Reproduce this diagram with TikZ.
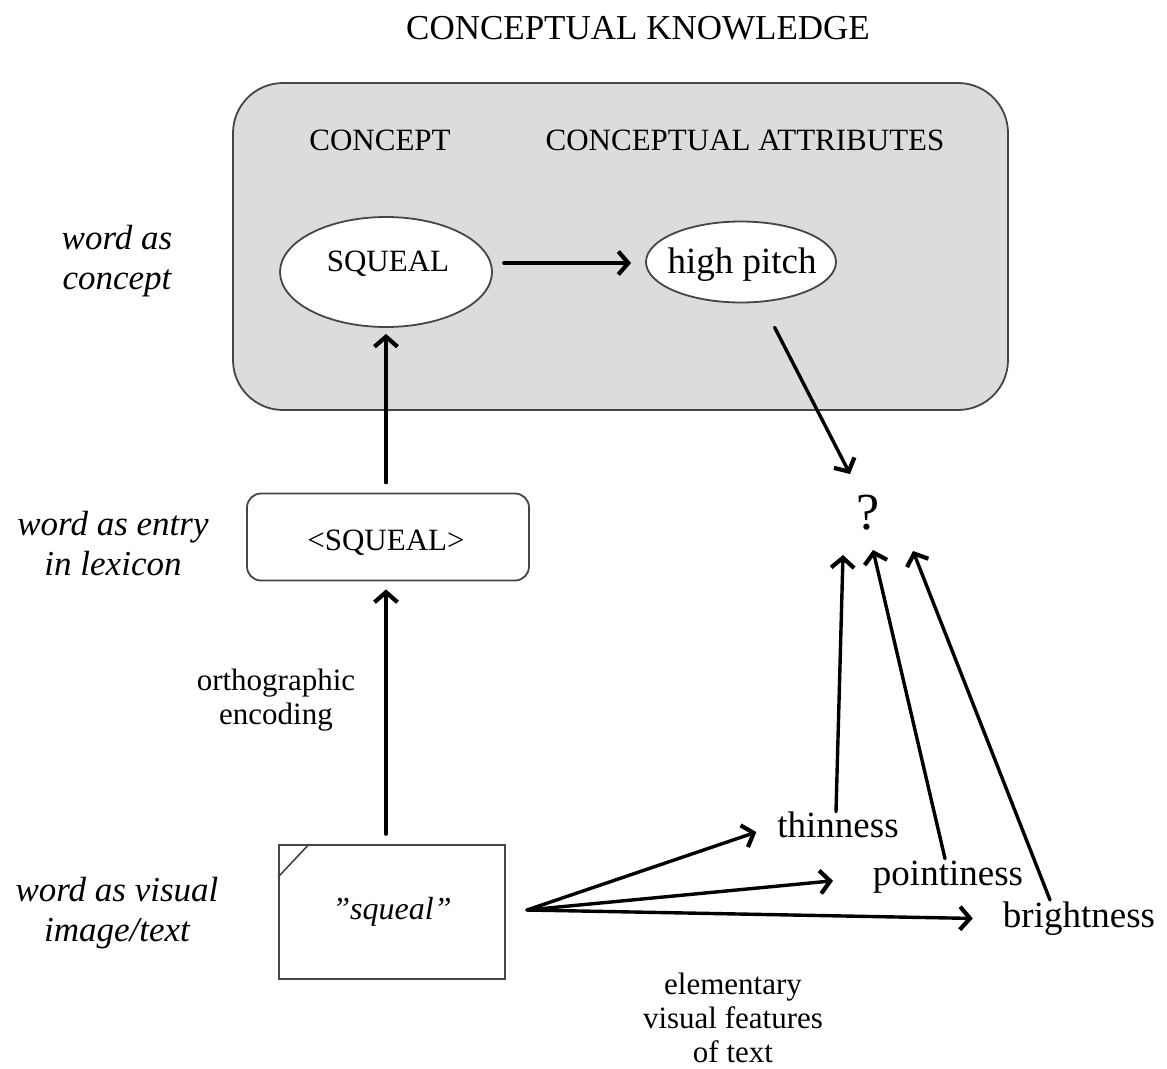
\documentclass[tikz,border=0pt]{standalone}
\usepackage{fontspec}
\setmainfont{Liberation Serif}
\usetikzlibrary{shapes.geometric,arrows.meta,calc}
\definecolor{boxgray}{HTML}{DCDCDC}
\definecolor{edgegray}{HTML}{454545}
\begin{document}
\begin{tikzpicture}[x=1pt,y=-1pt,
  arr/.style={line width=3.4pt,line cap=round,-{Straight Barb[length=10pt,width=23pt,line width=0.8pt 1]}},
  txt/.style={inner sep=0pt,align=center},
  ftitle/.style={font=\fontsize{35}{40}\selectfont},
  fcaps/.style={font=\fontsize{31}{36}\selectfont},
  flow/.style={font=\fontsize{37}{42}\selectfont},
  fsmall/.style={font=\fontsize{31}{34}\selectfont},
  fit/.style={font=\fontsize{35}{40}\selectfont\itshape},
  shape frame/.style={draw=edgegray,line width=1.8pt}]
\useasboundingbox (0,0) rectangle (1167,1068);

% conceptual knowledge box
\node[shape frame,fill=boxgray,rounded corners=50pt,minimum width=775pt,minimum height=327pt,inner sep=0pt] (kb) at (620.5,246.5) {};
\node[txt,ftitle] (title) at (638,28) {CONCEPTUAL KNOWLEDGE};
\node[txt,fcaps] (hconcept) at (380,140) {CONCEPT};
\node[txt,fcaps] (hattr) at (745,140) {CONCEPTUAL ATTRIBUTES};

\node[ellipse,shape frame,fill=white,minimum width=212pt,minimum height=110pt,inner sep=0pt] (sq) at (386,272) {};
\node[txt,fcaps] (sqt) at (388,264) {SQUEAL};
\node[ellipse,shape frame,fill=white,minimum width=190pt,minimum height=81pt,inner sep=0pt] (hp) at (741,262) {};
\node[txt,flow] (hpt) at (742,265) {high pitch};

% lexicon box
\node[shape frame,rounded corners=14pt,minimum width=282pt,minimum height=87pt,inner sep=0pt] (lex) at (388,537) {};
\node[txt,fcaps] (lext) at (386,543) {<SQUEAL>};

% visual image
\node[shape frame,minimum width=226pt,minimum height=134pt,inner sep=0pt] (img) at (392,912) {};
\node[txt,font=\fontsize{32}{36}\selectfont\itshape] (imgt) at (392,912) {”squeal”};
\draw[edgegray,line width=1.6pt] ($(img.north west)+(0,33)$) -- ($(img.north west)+(31,0)$);

% left labels
\node[txt,fit] (l1) at (117,261) {word as\\concept};
\node[txt,fit] (l2) at (113,544) {word as entry\\in lexicon};
\node[txt,fit] (l3) at (117,913) {word as visual\\image/text};

\node[txt,fsmall] (orth) at (276,700) {orthographic\\encoding};
\node[txt,fsmall] (elem) at (733,1018) {elementary\\visual features\\of text};

% features
\node[txt,flow] (thin) at (838,825) {thinness};
\node[txt,flow] (point) at (948,877) {pointiness};
\node[txt,flow] (bright) at (1079,919) {brightness};
\node[txt,font=\fontsize{52}{56}\selectfont] (q) at (868,513) {?};

\coordinate (src) at (527,910);
\coordinate (qa) at (850,474);
\coordinate (qb) at (843,555);
\coordinate (qc) at (873,550);
\coordinate (qd) at (913,551);

% connectors
\draw[arr] ($(sq.east)+(11,-9)$) -- ($(hp.west)+(-14,1)$);
\draw[arr,shorten <=10pt,shorten >=6pt] (lex.north -| sq.south) -- (sq.south);
\draw[arr,shorten <=10pt,shorten >=8pt] (img.north -| sq.south) -- (lex.south -| sq.south);
\draw[arr,shorten <=28pt] (hp) -- (qa);
\draw[arr] (src) -- (thin.west) [shorten >=22pt];
\draw[arr] (src) -- (point.west) [shorten >=40pt];
\draw[arr] (src) -- (bright.west) [shorten >=30pt];
\draw[arr] ($(thin.north)+(-2,0)$) -- (qb);
\draw[arr] ($(point.north)+(-3,-2)$) -- (qc);
\draw[arr] ($(bright.north)+(-29,-2)$) -- (qd);
\end{tikzpicture}
\end{document}
